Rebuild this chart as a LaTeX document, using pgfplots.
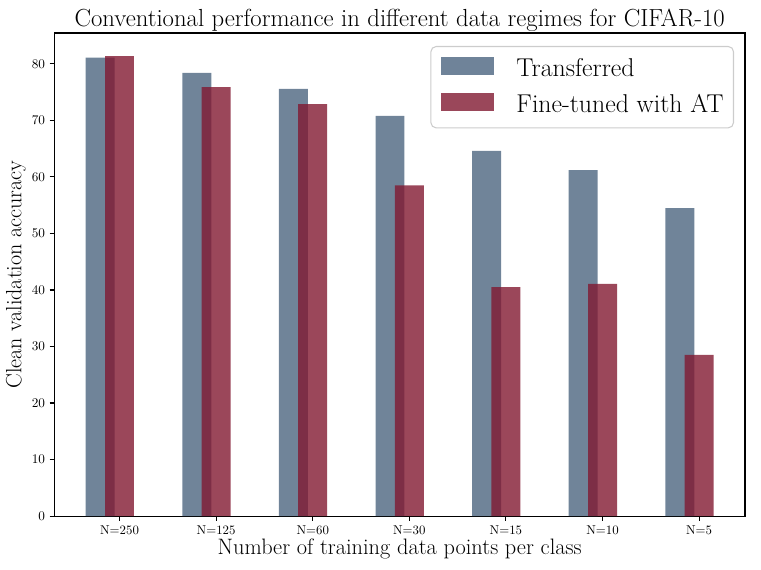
\documentclass[border=0pt]{standalone}
\usepackage{pgfplots}
\pgfplotsset{compat=1.18}
\definecolor{transf}{RGB}{76,101,128}
\definecolor{finet}{RGB}{130,25,49}
\begin{document}
\begin{tikzpicture}
\begin{axis}[
  at={(0,0)}, anchor=south west,
  scale only axis, width=522.8pt, height=365.6pt,
  xmin=-0.675, xmax=6.475, ymin=0, ymax=85.47,
  xtick={0,1,2,3,4,5,6},
  xticklabels={N=250,N=125,N=60,N=30,N=15,N=10,N=5},
  ytick={0,10,20,30,40,50,60,70,80},
  tick pos=left, tick align=outside,
  major tick length=3.5pt,
  every tick/.style={black, line width=0.8pt},
  axis line style={line width=0.8pt},
  tick label style={font=\fontsize{9.7}{11}\selectfont},
  every axis title shift=0pt,
  title={Conventional performance in different data regimes for CIFAR-10},
  title style={font=\fontsize{18.7}{22}\selectfont, anchor=base, at={([yshift=5.3pt]axis description cs:0.5,1)}},
  xlabel={Number of training data points per class},
  xlabel style={font=\fontsize{16.9}{20}\selectfont, anchor=base, at={([yshift=-29pt]axis description cs:0.5,0)}},
  ylabel={Clean validation accuracy},
  ylabel style={font=\fontsize{16.7}{20}\selectfont, anchor=base, rotate=0, at={([xshift=-25pt]axis description cs:0,0.5)}},
  legend style={at={([xshift=-8.3pt,yshift=-9.8pt]axis description cs:1,1)}, anchor=north east,
    font=\fontsize{19.5}{22}\selectfont, draw=black!20, line width=0.8pt, rounded corners=4pt,
    fill=white, fill opacity=0.8, text opacity=1,
    inner xsep=7.6pt, inner ysep=8.3pt, row sep=8.8pt,
    nodes={inner sep=0pt, text height=13.6pt, text depth=0pt},
    /tikz/every odd column/.append style={column sep=17.2pt}},
  legend cell align=left,
  legend image code/.code={\path[draw=none, fill=none] (0pt,-10.5pt) -- (40pt,-10.5pt);\fill[#1, draw=none, sharp corners] (0pt,-6pt) rectangle (40pt,7.6pt);},
]
\addplot[ybar, bar width=0.3, bar shift=-0.2, fill=transf, fill opacity=0.8, draw=none]
  coordinates {(0,81.1) (1,78.4) (2,75.6) (3,70.8) (4,64.6) (5,61.2) (6,54.5)};
\addlegendentry{Transferred}
\addplot[ybar, bar width=0.3, bar shift=0, fill=finet, fill opacity=0.8, draw=none]
  coordinates {(0,81.4) (1,75.9) (2,72.9) (3,58.5) (4,40.5) (5,41.1) (6,28.5)};
\addlegendentry{Fine-tuned with AT}
\end{axis}
\pgfresetboundingbox
\path[use as bounding box] (-41.1pt,-40.1pt) rectangle (534.9pt,390.6pt);
\end{tikzpicture}
\end{document}
